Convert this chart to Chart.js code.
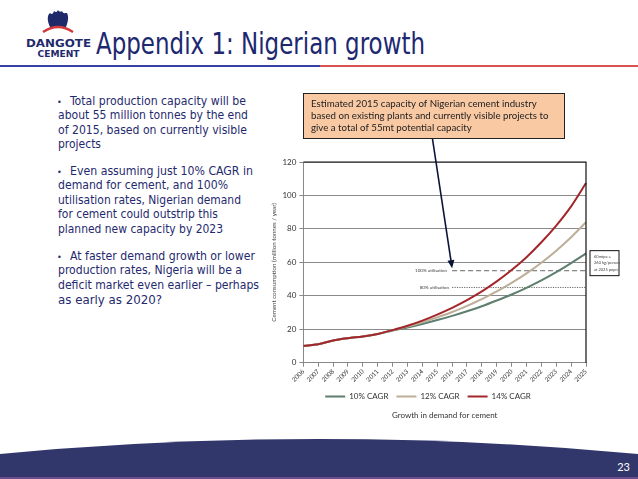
<!DOCTYPE html>
<html>
<head>
<meta charset="utf-8">
<script src="https://cdn.jsdelivr.net/npm/chart.js"></script>
<style>
  html, body { margin: 0; padding: 0; background: #fff; }
  #slide { position: relative; width: 638px; height: 479px; overflow: hidden; }
  #bg, #c { position: absolute; left: 0; top: 0; }
  .body { font-family: "DejaVu Sans Condensed", "DejaVu Sans", sans-serif; font-size: 12.7px; fill: #1f2a6e; }
</style>
</head>
<body>
<div id="slide">
  <svg id="bg" width="638" height="479">
    <!-- logo -->
    <path d="M50,27 C47,21 47,15 50,13 C52,15 53,14 54,11 C56,13 57,12 58,10 C59,12 61,12 62,11 C63,14 65,13 67,13 C69,17 68,22 66,27 Z" fill="#1f2a6b"/>
    <path d="M43,32 Q58,22 73,32" stroke="#d23b3b" stroke-width="2.5" fill="none"/>
    <text x="58.5" y="46.5" text-anchor="middle" font-family="DejaVu Sans" font-weight="bold" font-size="10" fill="#1f2a6b" textLength="65" lengthAdjust="spacingAndGlyphs">DANGOTE</text>
    <text x="58.5" y="57" text-anchor="middle" font-family="DejaVu Sans" font-weight="bold" font-size="9" fill="#1f2a6b" textLength="42" lengthAdjust="spacingAndGlyphs">CEMENT</text>
    <!-- title + rule -->
    <text x="96" y="54" font-family="DejaVu Sans" font-size="30" fill="#1c2870" textLength="329" lengthAdjust="spacingAndGlyphs">Appendix 1: Nigerian growth</text>
    <rect x="0" y="65" width="320" height="2" fill="#3442a4"/>
    <rect x="320" y="65" width="318" height="2" fill="#d9534f"/>
    <!-- bullets -->
    <g class="body">
      <text x="57" y="104.5" font-size="9">•</text>
      <text x="70" y="104.5" textLength="176" lengthAdjust="spacingAndGlyphs">Total production capacity will be</text>
      <text x="58" y="119" textLength="190" lengthAdjust="spacingAndGlyphs">about 55 million tonnes by the end</text>
      <text x="58" y="133.5" textLength="189" lengthAdjust="spacingAndGlyphs">of 2015, based on currently visible</text>
      <text x="58" y="148" textLength="43" lengthAdjust="spacingAndGlyphs">projects</text>

      <text x="57" y="174.5" font-size="9">•</text>
      <text x="70" y="174.5" textLength="183" lengthAdjust="spacingAndGlyphs">Even assuming just 10% CAGR in</text>
      <text x="58" y="189" textLength="170" lengthAdjust="spacingAndGlyphs">demand for cement, and 100%</text>
      <text x="58" y="203.5" textLength="183" lengthAdjust="spacingAndGlyphs">utilisation rates, Nigerian demand</text>
      <text x="58" y="218" textLength="160" lengthAdjust="spacingAndGlyphs">for cement could outstrip this</text>
      <text x="58" y="232.5" textLength="165" lengthAdjust="spacingAndGlyphs">planned new capacity by 2023</text>

      <text x="57" y="259.5" font-size="9">•</text>
      <text x="70" y="259.5" textLength="185" lengthAdjust="spacingAndGlyphs">At faster demand growth or lower</text>
      <text x="58" y="274.2" textLength="184" lengthAdjust="spacingAndGlyphs">production rates, Nigeria will be a</text>
      <text x="58" y="288.9" textLength="201" lengthAdjust="spacingAndGlyphs">deficit market even earlier – perhaps</text>
      <text x="58" y="303.6" textLength="104" lengthAdjust="spacingAndGlyphs">as early as 2020?</text>
    </g>
    <!-- footer -->
    <path d="M0,454 Q319,424 638,454 L638,479 L0,479 Z" fill="#31376b"/>
    <rect x="0" y="477" width="638" height="2" fill="#6b4c8c"/>
    <text x="630" y="471" text-anchor="end" font-family="Lato" font-size="11" fill="#fff">23</text>
  </svg>
  <canvas id="c" width="638" height="479"></canvas>
</div>
<script>
// data
const years = ['2006', '2007', '2008', '2009', '2010', '2011', '2012', '2013', '2014', '2015',
               '2016', '2017', '2018', '2019', '2020', '2021', '2022', '2023', '2024', '2025'];
const cagr10 = [10, 11, 13.3, 14.7, 15.7, 17.2, 19.3, 21.1, 23.2, 25.5, 28, 30.8, 33.8, 37.2, 40.8, 44.8, 49.2, 54.1, 59.5, 65.4];
const cagr12 = [10, 11, 13.3, 14.7, 15.7, 17.2, 19.4, 21.6, 24.2, 27.1, 30.3, 34, 38, 42.6, 47.7, 53.4, 59.8, 67, 75, 84];
const cagr14 = [10, 11, 13.3, 14.7, 15.7, 17.2, 19.5, 22.1, 25.2, 28.8, 32.8, 37.4, 42.6, 48.6, 55.4, 63.1, 72, 82, 93.5, 107.4];
const util100 = [null, null, null, null, null, null, null, null, null, null, 55, 55, 55, 55, 55, 55, 55, 55, 55, 55];
const util80 = [null, null, null, null, null, null, null, null, null, null, 45, 45, 45, 45, 45, 45, 45, 45, 45, 45];
const yMax = 120;
const yStep = 20;

Chart.defaults.font.family = 'Lato';
Chart.defaults.color = '#333';

const line = (label, data, color) => ({
    label: label,
    data: data,
    borderColor: color,
    backgroundColor: color,
    borderWidth: 2,
    pointRadius: 0,
    pointStyle: 'line',
    cubicInterpolationMode: 'monotone',
});

const refLine = (label, data, dash) => ({
    label: label,
    data: data,
    borderColor: '#555',
    borderWidth: 0.9,
    borderDash: dash,
    pointRadius: 0,
    spanGaps: false,
});

// frame, callouts and the arrow
const overlay = {
    id: 'overlay',
    afterDraw(chart) {
        const { ctx, chartArea: a, scales: { x, y } } = chart;
        ctx.save();

        ctx.strokeStyle = '#111';
        ctx.lineWidth = 1.2;
        ctx.beginPath();
        ctx.moveTo(a.left, a.top);
        ctx.lineTo(a.right, a.top);
        ctx.lineTo(a.right, a.bottom);
        ctx.stroke();

        // utilisation labels
        ctx.font = '4.5px Lato';
        ctx.fillStyle = '#444';
        ctx.textAlign = 'right';
        ctx.textBaseline = 'middle';
        ctx.fillText('100% utilisation', x.getPixelForValue(10) - 5, y.getPixelForValue(55));
        ctx.fillText('80% utilisation', x.getPixelForValue(10) - 3, y.getPixelForValue(45));

        // side note box
        const bx = a.right + 4, by = y.getPixelForValue(67);
        ctx.fillStyle = '#fff';
        ctx.fillRect(bx, by, 29, 25);
        ctx.strokeStyle = '#111';
        ctx.lineWidth = 1;
        ctx.strokeRect(bx, by, 29, 25);
        ctx.fillStyle = '#444';
        ctx.textAlign = 'left';
        ctx.font = '4px Lato';
        ['60mtpa =', '260 kg/person', 'at 2025 popn'].forEach((t, i) => ctx.fillText(t, bx + 4, by + 6 + i * 6.5));

        // capacity callout
        ctx.fillStyle = '#f9c9a3';
        ctx.fillRect(303, 93, 261, 45);
        ctx.strokeStyle = '#222';
        ctx.strokeRect(303.5, 93.5, 261, 45);
        ctx.fillStyle = '#222';
        ctx.font = '9.7px Lato';
        ['Estimated 2015 capacity of Nigerian cement industry',
         'based on existing plants and currently visible projects to',
         'give a total of 55mt potential capacity'].forEach((t, i) => ctx.fillText(t, 311, 103.5 + i * 12.2));

        // arrow to the 2015 capacity level
        const x0 = 432.5, y0 = 139;
        const x1 = x.getPixelForValue(10), y1 = y.getPixelForValue(56.5);
        const ang = Math.atan2(y1 - y0, x1 - x0);
        ctx.strokeStyle = '#0b1238';
        ctx.fillStyle = '#0b1238';
        ctx.lineWidth = 1.6;
        ctx.beginPath();
        ctx.moveTo(x0, y0);
        ctx.lineTo(x1 - 6 * Math.cos(ang), y1 - 6 * Math.sin(ang));
        ctx.stroke();
        ctx.beginPath();
        ctx.moveTo(x1, y1);
        ctx.lineTo(x1 - 8 * Math.cos(ang) + 3.5 * Math.sin(ang), y1 - 8 * Math.sin(ang) - 3.5 * Math.cos(ang));
        ctx.lineTo(x1 - 8 * Math.cos(ang) - 3.5 * Math.sin(ang), y1 - 8 * Math.sin(ang) + 3.5 * Math.cos(ang));
        ctx.closePath();
        ctx.fill();

        ctx.restore();
    }
};

new Chart(document.getElementById('c'), {
    type: 'line',
    data: {
        labels: years,
        // first dataset is painted last, so 14% sits on top
        datasets: [
            line('14% CAGR', cagr14, '#a3262b'),
            line('12% CAGR', cagr12, '#bcae97'),
            line('10% CAGR', cagr10, '#5e7f6e'),
            refLine('100% utilisation', util100, [5, 3]),
            refLine('80% utilisation', util80, [1.2, 1.2]),
        ],
    },
    options: {
        responsive: false,
        animation: false,
        layout: { padding: { left: 270, right: 52, top: 162, bottom: 59 } },
        plugins: {
            tooltip: { enabled: false },
            legend: {
                position: 'bottom',
                reverse: true,
                labels: {
                    filter: item => item.text.indexOf('CAGR') >= 0,
                    usePointStyle: true,
                    pointStyleWidth: 20,
                    font: { size: 8 },
                    color: '#333',
                    padding: 8,
                },
            },
            title: {
                display: true,
                position: 'bottom',
                fullSize: false,
                text: 'Growth in demand for cement',
                font: { size: 8, weight: 'normal' },
                color: '#333',
                padding: { top: 0, bottom: 0 },
            },
        },
        scales: {
            x: {
                grid: { drawOnChartArea: false, drawTicks: true, tickLength: 4, color: '#888' },
                border: { color: '#888' },
                ticks: { autoSkip: false, minRotation: 45, maxRotation: 45, font: { size: 6.3 }, color: '#333', padding: 1 },
            },
            y: {
                min: 0,
                max: yMax,
                grid: { color: '#8a8a8a', tickLength: 4 },
                border: { color: '#888' },
                ticks: { stepSize: yStep, font: { size: 8 }, color: '#333', padding: 3 },
                title: {
                    display: true,
                    text: 'Cement consumption (million tonnes / year)',
                    font: { size: 6.2 },
                    color: '#444',
                    padding: { top: 0, bottom: 2 },
                },
            },
        },
    },
    plugins: [overlay],
});
</script>
</body>
</html>
